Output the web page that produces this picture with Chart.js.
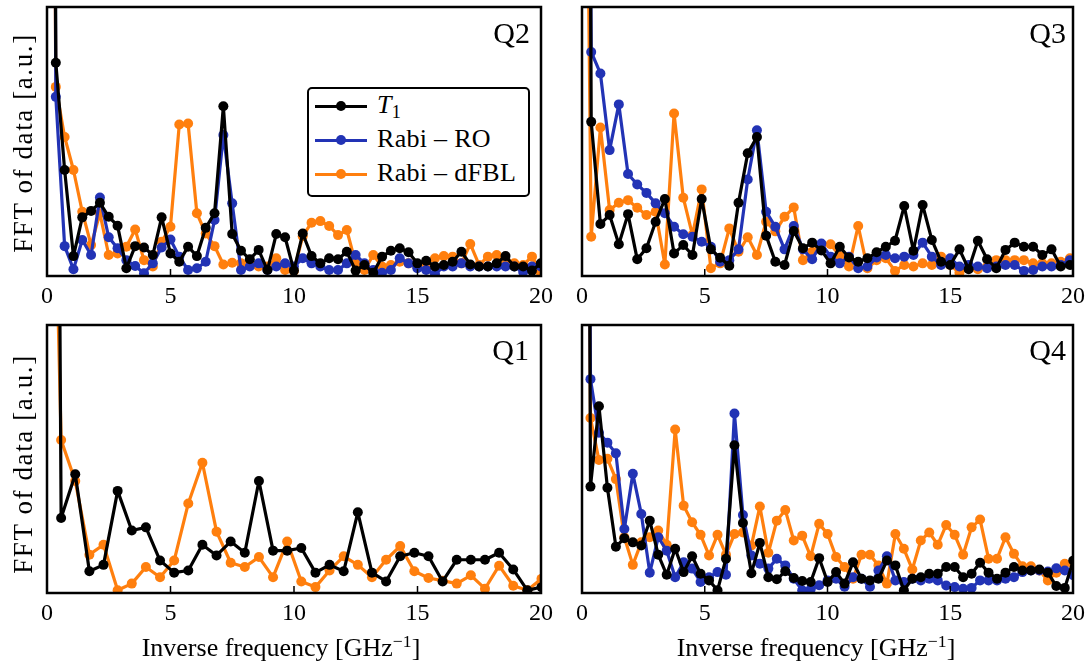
<!DOCTYPE html>
<html>
<head>
<meta charset="utf-8">
<script src="https://cdn.jsdelivr.net/npm/chart.js@4.4.1/dist/chart.umd.min.js"></script>
<style>
  body { margin: 0; background: #fff; }
  #page { position: relative; width: 1091px; height: 666px; overflow: hidden; font-family: "Liberation Serif", serif; color: #000; }
  canvas { position: absolute; }
  .tag { position: absolute; font-size: 30px; line-height: 30px; text-align: right; }
  .xlab { position: absolute; width: 400px; text-align: center; font-size: 26px; line-height: 26px; white-space: nowrap; }
  .ylab { position: absolute; width: 300px; text-align: center; font-size: 27px; line-height: 27px; letter-spacing: 1.6px; white-space: nowrap; transform: translate(-50%, -50%) rotate(-90deg); }
  sup { font-size: 68%; vertical-align: 0.5em; line-height: 0; }
  sub { font-size: 70%; vertical-align: -0.25em; line-height: 0; }
  #legend { position: absolute; left: 307px; top: 87px; width: 219px; height: 106px; border: 2px solid #000; border-radius: 5px; background: #fff; }
  .row { position: absolute; left: 0; width: 219px; height: 30px; }
  .row .ln { position: absolute; left: 6px; top: 13.5px; width: 52px; height: 3px; }
  .row .dot { position: absolute; left: 27px; top: 10px; width: 10px; height: 10px; border-radius: 50%; }
  .row .txt { position: absolute; left: 68px; top: 0px; font-size: 26px; line-height: 28px; letter-spacing: 0.3px; white-space: nowrap; }
</style>
</head>
<body>
<div id="page">
  <canvas id="q2" width="560" height="320" style="left:0;top:0"></canvas>
  <canvas id="q3" width="531" height="320" style="left:560px;top:0"></canvas>
  <canvas id="q1" width="560" height="346" style="left:0;top:320px"></canvas>
  <canvas id="q4" width="531" height="346" style="left:560px;top:320px"></canvas>

  <div class="tag" style="right:561px;top:18px">Q2</div>
  <div class="tag" style="right:25px;top:18px">Q3</div>
  <div class="tag" style="right:562px;top:335px">Q1</div>
  <div class="tag" style="right:25px;top:335px">Q4</div>

  <div class="ylab" style="left:23px;top:143px">FFT of data [a.u.]</div>
  <div class="ylab" style="left:23px;top:464px">FFT of data [a.u.]</div>
  <div class="xlab" style="left:81px;top:635px">Inverse frequency [GHz<sup>&minus;1</sup>]</div>
  <div class="xlab" style="left:616px;top:635px">Inverse frequency [GHz<sup>&minus;1</sup>]</div>

  <div id="legend"></div>
</div>

<script>
const COLOR_T1 = "#000000";
const COLOR_RO = "#2233b5";
const COLOR_DFBL = "#ff7f0e";

const SERIES_NAMES = ["<i>T</i><sub>1</sub>", "Rabi &ndash; RO", "Rabi &ndash; dFBL"];
const X_TICKS = [0, 5, 10, 15, 20];

// frequency bin width of each qubit's FFT (GHz^-1)
const Q2_STEP = 0.357;
const Q3_STEP = 0.375;
const Q1_STEP = 0.572;
const Q4_STEP = 0.345;

// first value of every series is the off-scale zero bin
const Q2_T1 = [900, 79.3, 39.4, 7.4, 21.8, 24.2, 27.2, 22.0, 18.7, 2.9, 11.1, 10.6, 7.8, 21.8, 8.4, 5.3, 10.9, 7.4, 17.9, 23.3, 63.1,
  15.6, 9.4, 6.2, 9.7, 2.2, 15.6, 14.4, 2.0, 15.8, 7.4, 4.7, 6.6, 6.2, 9.0, 2.0, 4.1, 1.2, 7.2, 9.4, 10.3,
  8.8, 4.7, 5.7, 3.5, 4.1, 5.3, 9.0, 4.3, 3.5, 3.5, 4.7, 7.4, 3.5, 3.5, 2.0, 4.7];
const Q2_RO = [900, 66.6, 11.1, 2.5, 13.4, 7.8, 29.2, 14.4, 10.3, 5.9, 3.7, 1.0, 4.7, 10.6, 13.6, 7.2, 2.2, 2.9, 5.3, 20.8, 52.4,
  27.0, 2.2, 3.5, 4.7, 2.2, 3.5, 4.7, 3.5, 6.6, 4.7, 3.5, 2.2, 2.2, 4.7, 7.8, 4.7, 2.2, 1.2, 2.2, 6.6,
  4.7, 2.9, 2.2, 0.7, 3.5, 3.5, 4.7, 3.5, 3.5, 3.5, 3.5, 3.5, 3.5, 1.5, 3.5, 3.5];
const Q2_DFBL = [600, 70.3, 51.7, 39.4, 23.9, 11.5, 23.3, 7.8, 8.4, 10.9, 17.3, 5.9, 3.5, 12.7, 18.3, 56.3, 56.7, 23.3, 15.8, 11.1, 4.3,
  4.9, 4.7, 4.7, 3.5, 3.5, 6.6, 2.2, 1.9, 14.8, 19.8, 20.4, 18.6, 15.2, 17.1, 4.7, 2.2, 7.8, 3.5, 4.1, 5.3,
  4.7, 3.5, 4.7, 6.6, 7.4, 7.2, 4.7, 11.9, 4.1, 7.2, 7.8, 5.9, 4.7, 4.1, 7.2, 1.2];

const Q3_T1 = [900, 57.3, 19.3, 22.7, 11.8, 23.0, 6.2, 10.3, 20.2, 28.6, 8.4, 11.5, 7.8, 28.6, 9.9, 6.8, 3.8, 27.2, 45.6, 51.7, 15.0,
  5.3, 4.1, 16.7, 10.3, 12.4, 9.5, 4.7, 10.9, 6.9, 5.3, 6.6, 8.8, 10.9, 13.1, 26.0, 9.4, 26.4, 13.4, 5.3, 4.1,
  9.9, 2.5, 13.1, 6.2, 2.9, 9.7, 12.4, 10.9, 10.9, 7.8, 9.9, 3.5, 4.1];
const Q3_RO = [600, 83.3, 75.3, 46.8, 63.8, 37.9, 34.0, 30.9, 27.0, 23.3, 18.3, 15.5, 14.6, 12.7, 10.9, 5.3, 5.9, 9.9, 35.9, 54.2, 23.9,
  18.3, 9.9, 18.6, 9.9, 6.2, 12.1, 7.2, 4.7, 7.2, 2.9, 3.5, 6.9, 7.8, 6.6, 7.2, 7.8, 12.4, 7.2, 4.1, 6.6,
  3.5, 4.1, 3.5, 2.9, 3.5, 4.1, 4.1, 1.9, 2.2, 3.5, 3.5, 4.1, 5.9];
const Q3_DFBL = [340, 14.6, 55.2, 24.5, 27.2, 28.2, 25.4, 22.7, 23.9, 4.3, 60.4, 29.1, 15.2, 32.2, 2.9, 4.7, 17.7, 9.0, 14.4, 7.8, 20.2,
  16.6, 22.0, 25.5, 5.9, 9.0, 11.8, 11.8, 7.4, 3.5, 18.6, 2.9, 5.9, 6.6, 1.9, 4.1, 3.5, 4.7, 4.1, 7.2, 4.1,
  1.2, 2.9, 2.5, 3.5, 5.9, 5.9, 5.9, 5.9, 4.7, 4.7, 4.7, 5.3, 6.6];

const Q1_T1 = [900, 28.0, 44.3, 8.1, 10.5, 38.1, 23.3, 24.5, 12.1, 7.6, 8.4, 18.0, 14.0, 19.2, 15.0, 41.8, 15.8, 15.8, 16.8, 7.6, 10.5,
  8.1, 30.1, 7.6, 4.3, 13.7, 15.0, 13.7, 4.3, 12.4, 12.4, 12.4, 15.0, 8.8, 1.0, 2.2];
const Q1_DFBL = [275, 57.1, 41.8, 14.3, 18.0, 1.0, 3.5, 9.7, 5.9, 12.1, 33.4, 48.6, 22.9, 11.3, 9.7, 13.4, 5.9, 19.2, 4.3, 2.2, 8.4,
  13.7, 10.5, 5.9, 12.4, 17.5, 8.1, 5.6, 4.6, 3.5, 6.6, 1.6, 10.2, 2.7, 1.0, 5.3];

const Q4_T1 = [900, 39.7, 69.7, 39.3, 17.3, 20.4, 18.9, 17.7, 27.0, 14.3, 6.8, 16.5, 7.8, 13.7, 7.2, 4.7, 1.0, 12.8, 55.1, 26.1, 7.4,
  18.7, 5.9, 5.1, 8.1, 5.6, 4.5, 4.1, 13.0, 4.1, 7.8, 3.5, 11.5, 5.3, 4.7, 5.3, 12.1, 10.3, 1.0, 5.3, 5.9,
  7.2, 7.2, 9.7, 9.7, 5.9, 7.2, 11.3, 7.6, 5.3, 7.6, 9.7, 8.4, 8.4, 8.8, 7.6, 2.6, 1.9, 12.1];
const Q4_RO = [600, 79.8, 59.8, 56.1, 52.1, 23.9, 44.5, 29.5, 7.6, 20.8, 15.8, 5.9, 11.5, 9.1, 4.1, 5.9, 7.8, 6.8, 67.0, 29.1, 14.0,
  10.9, 9.1, 12.8, 10.3, 5.3, 1.0, 1.4, 2.9, 4.7, 5.3, 2.3, 5.9, 5.3, 2.3, 8.4, 13.7, 4.7, 4.1, 5.3, 4.7,
  5.3, 4.7, 2.8, 2.2, 1.6, 1.9, 4.7, 4.7, 4.7, 5.3, 5.9, 7.8, 8.4, 8.4, 8.0, 9.2, 8.4, 6.6];
const Q4_DFBL = [600, 65.3, 49.6, 50.1, 42.5, 20.8, 10.5, 18.9, 20.8, 23.3, 18.0, 61.0, 32.6, 26.4, 21.7, 14.0, 21.7, 14.3, 22.0, 22.6, 17.7,
  32.3, 15.0, 27.0, 31.0, 19.6, 21.4, 13.7, 25.8, 22.0, 13.4, 9.7, 5.3, 14.3, 14.3, 10.3, 3.5, 22.0, 16.5, 8.8, 19.6,
  22.6, 18.0, 25.4, 21.7, 14.3, 24.5, 27.4, 12.8, 12.8, 20.8, 14.6, 10.0, 10.0, 8.4, 4.7, 7.6, 10.9, 10.9];


// frame and inward ticks, like matplotlib
const framePlugin = {
  id: "frame",
  afterDraw(chart) {
    const ctx = chart.ctx;
    const a = chart.chartArea;
    const x = chart.scales.x;
    ctx.save();
    ctx.strokeStyle = "#000";
    ctx.lineWidth = 1.5;
    ctx.beginPath();
    X_TICKS.forEach((v) => {
      const px = x.getPixelForValue(v);
      ctx.moveTo(px, a.bottom);
      ctx.lineTo(px, a.bottom - 7);
    });
    ctx.stroke();
    ctx.lineWidth = 2.5;
    ctx.strokeRect(a.left, a.top, a.right - a.left, a.bottom - a.top);
    ctx.restore();
  },
};


function series(step, values, color) {
  return {
    data: values.map((v, i) => ({ x: i * step, y: v })),
    borderColor: color,
    backgroundColor: color,
    pointBackgroundColor: color,
    borderWidth: 3.2,
    pointRadius: 5,
    pointBorderWidth: 0,
    borderJoinStyle: "round",
    tension: 0,
    clip: 0,
  };
}


function drawPanel(id, datasets, pad, axisHeight) {
  const ctx = document.getElementById(id);
  return new Chart(ctx, {
    type: "line",
    data: { datasets: datasets },
    plugins: [framePlugin],
    options: {
      responsive: false,
      animation: false,
      layout: { padding: { left: pad[0], top: pad[1], right: pad[2], bottom: 0 } },
      plugins: {
        legend: { display: false },
        tooltip: { enabled: false },
      },
      scales: {
        x: {
          type: "linear",
          min: 0,
          max: 20,
          afterBuildTicks: (s) => { s.ticks = X_TICKS.map((v) => ({ value: v })); },
          afterFit: (s) => { s.height = axisHeight; },
          grid: { display: false, drawTicks: false },
          border: { display: false },
          ticks: {
            padding: 6,
            color: "#000",
            maxRotation: 0,
            autoSkip: false,
            font: { family: "Liberation Serif", size: 24 },
          },
        },
        y: { display: false, min: 0, max: 100 },
      },
    },
  });
}


drawPanel("q2", [
  series(Q2_STEP, Q2_T1, COLOR_T1),
  series(Q2_STEP, Q2_RO, COLOR_RO),
  series(Q2_STEP, Q2_DFBL, COLOR_DFBL),
], [47, 7, 19], 44);

drawPanel("q3", [
  series(Q3_STEP, Q3_T1, COLOR_T1),
  series(Q3_STEP, Q3_RO, COLOR_RO),
  series(Q3_STEP, Q3_DFBL, COLOR_DFBL),
], [22, 7, 15], 44);

drawPanel("q1", [
  series(Q1_STEP, Q1_T1, COLOR_T1),
  series(Q1_STEP, Q1_DFBL, COLOR_DFBL),
], [47, 3, 19], 73);

drawPanel("q4", [
  series(Q4_STEP, Q4_T1, COLOR_T1),
  series(Q4_STEP, Q4_RO, COLOR_RO),
  series(Q4_STEP, Q4_DFBL, COLOR_DFBL),
], [22, 3, 15], 73);


// legend of the Q2 panel
const legend = document.getElementById("legend");
[COLOR_T1, COLOR_RO, COLOR_DFBL].forEach((c, i) => {
  const row = document.createElement("div");
  row.className = "row";
  row.style.top = (2 + i * 34) + "px";
  row.innerHTML = '<div class="ln" style="background:' + c + '"></div>' +
    '<div class="dot" style="background:' + c + '"></div>' +
    '<div class="txt">' + SERIES_NAMES[i] + "</div>";
  legend.appendChild(row);
});
</script>
</body>
</html>
